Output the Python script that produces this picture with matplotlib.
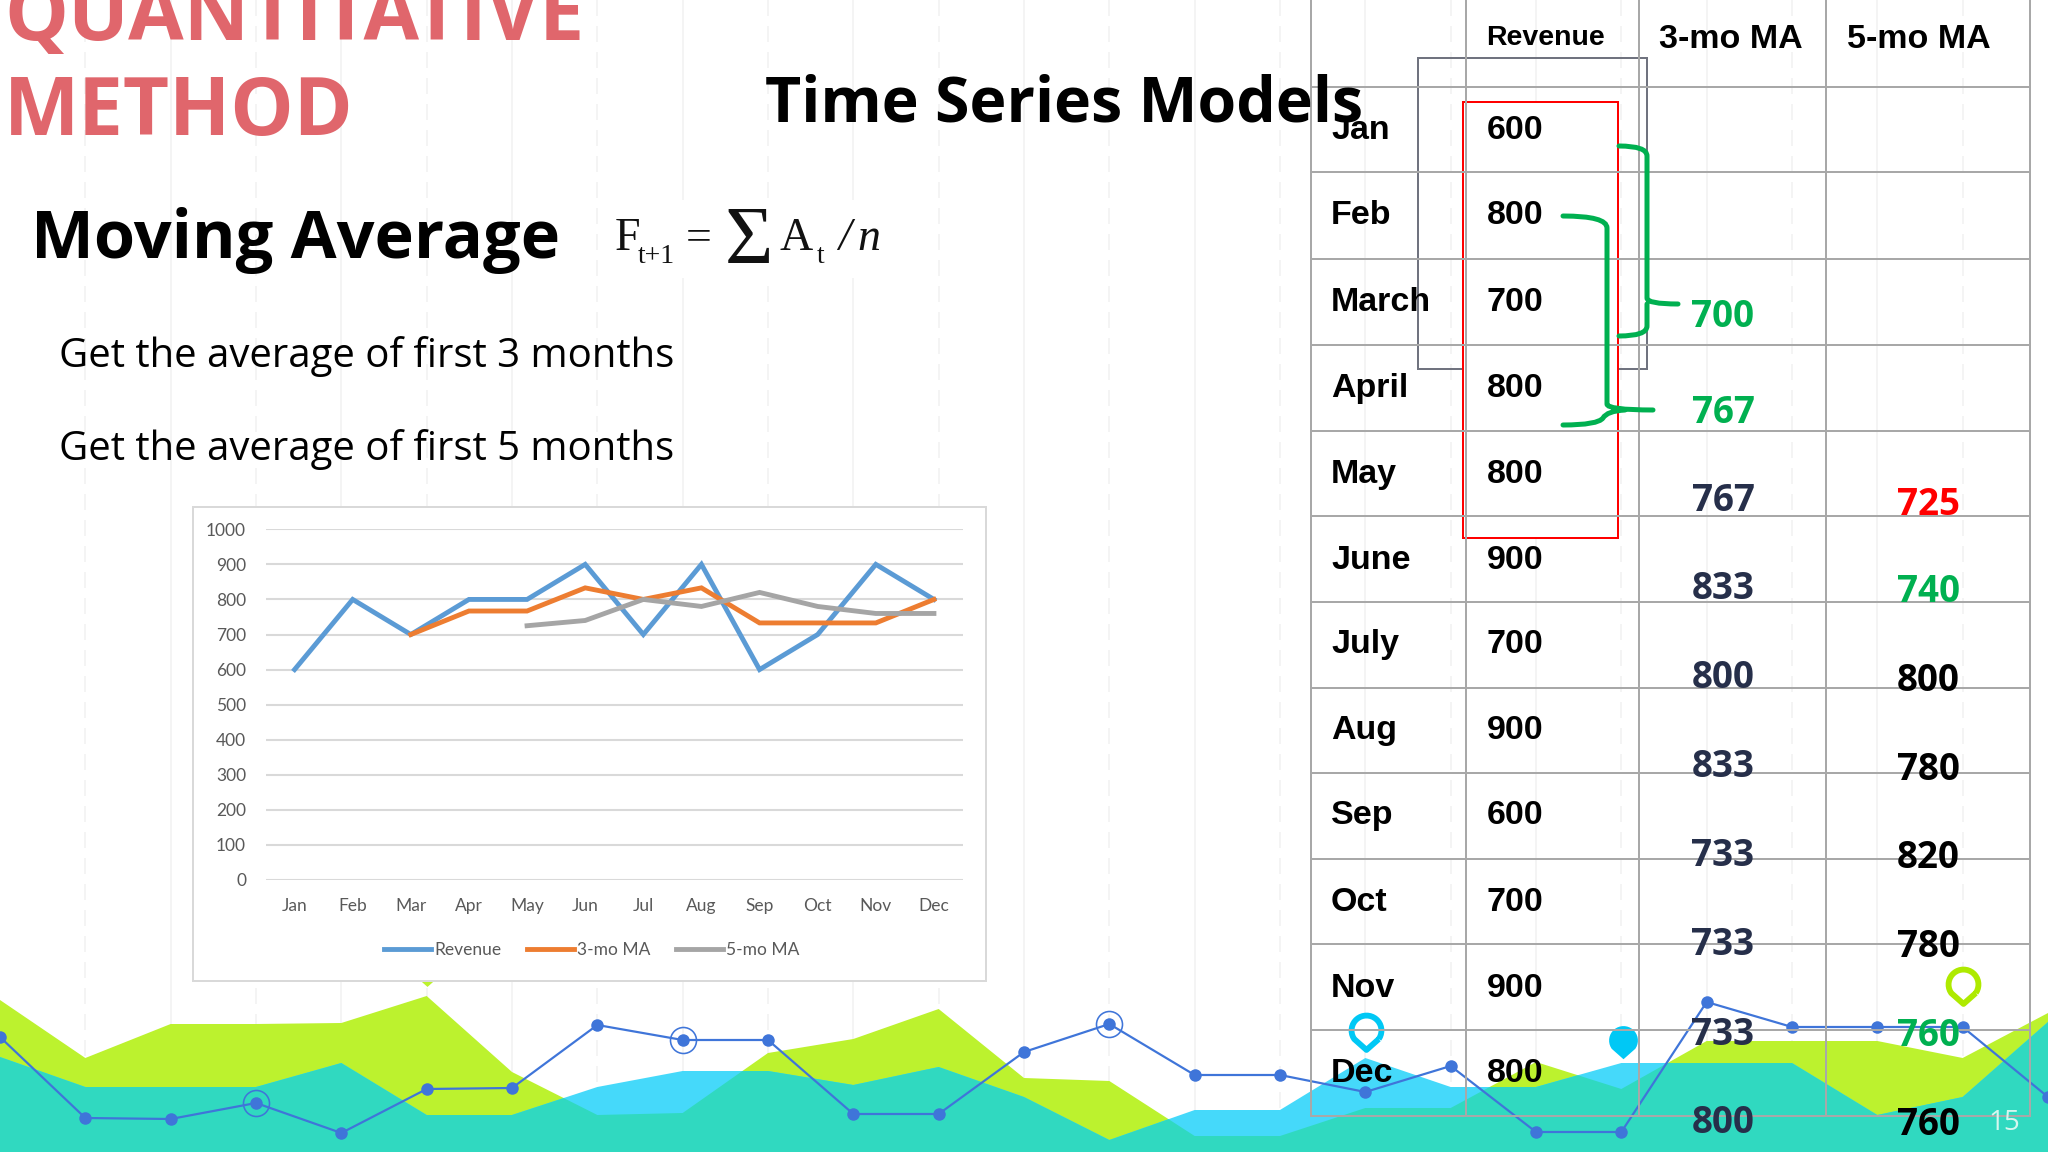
import numpy as np
import matplotlib
matplotlib.use('Agg')
import matplotlib.pyplot as plt
from matplotlib.path import Path
from matplotlib.patches import PathPatch, Rectangle, Polygon

months = ['Jan', 'Feb', 'Mar', 'Apr', 'May', 'Jun', 'Jul', 'Aug', 'Sep', 'Oct', 'Nov', 'Dec']
revenue = [600, 800, 700, 800, 800, 900, 700, 900, 600, 700, 900, 800]
ma3 = [np.nan, np.nan, 700, 767, 767, 833, 800, 833, 733, 733, 733, 800]
ma5 = [np.nan, np.nan, np.nan, np.nan, 725, 740, 800, 780, 820, 780, 760, 760]
y_ticks = [0, 100, 200, 300, 400, 500, 600, 700, 800, 900, 1000]

row_names = ['Jan', 'Feb', 'March', 'April', 'May', 'June', 'July', 'Aug', 'Sep', 'Oct', 'Nov', 'Dec']
row_y = [127, 212, 299, 385, 471, 557, 641, 727, 812, 899, 985, 1070]
ma3_y = [314, 410, 498, 586, 675, 764, 853, 942, 1032, 1120]
ma3_colors = ['#00b050', '#00b050', '#262f4a', '#262f4a', '#262f4a', '#262f4a', '#262f4a', '#262f4a', '#262f4a', '#262f4a']
ma5_y = [502, 589, 678, 767, 855, 944, 1033, 1122]
ma5_colors = ['#ff0000', '#00b050', 'black', 'black', 'black', 'black', '#00b050', 'black']

# decoration at the bottom of the slide, pixel heights every 1/24 of the width
wave_lime = [1000, 1058, 1024, 1024, 1023, 996, 1072, 1115, 1113, 1053, 1039, 1009, 1078,
             1081, 1136, 1136, 1108, 1108, 1062, 1089, 1041, 1041, 1041, 1058, 1013]
wave_cyan = [1057, 1087, 1087, 1087, 1063, 1115, 1115, 1087, 1071, 1071, 1085, 1067, 1097,
             1140, 1110, 1110, 1058, 1087, 1087, 1063, 1063, 1063, 1115, 1097, 1022]
wave_line = [1037, 1118, 1119, 1103, 1133, 1089, 1088, 1025, 1040, 1040, 1114, 1114, 1052,
             1024, 1075, 1075, 1092, 1066, 1132, 1132, 1002, 1027, 1027, 1027, 1097]
ring_idx = [3, 8, 13]

table_x = [1311, 1466, 1639, 1826, 2030]
table_y = [87, 172, 259, 345, 431, 516, 602, 688, 773, 859, 944, 1030, 1116]

GRAY = '#a8a8a8'
GREEN = '#00b050'
px = 0.72  # points per pixel at dpi 100

plt.rcParams['font.family'] = ['Open Sans', 'DejaVu Sans']

fig = plt.figure(figsize=(20.48, 11.52), dpi=100, facecolor='white')
ax = fig.add_axes([0, 0, 1, 1], zorder=1)
ax.set_xlim(0, 2048)
ax.set_ylim(1152, 0)
ax.axis('off')

step = 2048 / 24
wave_x = np.arange(25) * step

# pale vertical lines of the slide background
for i in range(1, 24):
    ax.plot([wave_x[i], wave_x[i]], [0, 1152], color='#f4f4f4', lw=2 * px,
            ls=(0, (8, 5)) if i % 2 else '-', zorder=1)
ax.add_patch(Rectangle((602, 200), 292, 78, fc='white', ec='none', zorder=1.5))

lime_poly = Polygon(np.r_[np.c_[wave_x, wave_lime], [[2048, 1152], [0, 1152]]], fc='#bcf22e', ec='none', zorder=2)
cyan_pts = np.r_[np.c_[wave_x, wave_cyan], [[2048, 1152], [0, 1152]]]
ax.add_patch(lime_poly)
ax.add_patch(Polygon(cyan_pts, fc='#45d9fa', ec='none', zorder=2.1))
overlap = Polygon(cyan_pts, fc='#30d9c0', ec='none', zorder=2.2)
ax.add_patch(overlap)
overlap.set_clip_path(lime_poly.get_path(), lime_poly.get_transform())

# map pins
ang = np.radians(np.arange(-35, 216, 10))
pin = Path(np.r_[np.c_[np.cos(ang), np.sin(ang)], [[0, -1.3]], [[np.cos(ang[0]), np.sin(ang[0])]]])
ax.plot([1366], [1030], marker=pin, ms=28, mfc='white', mec='#00c8f5', mew=4.2, ls='none', zorder=3)
ax.plot([1963], [984], marker=pin, ms=28, mfc='white', mec='#aeea00', mew=4.2, ls='none', zorder=3)
ax.plot([1623], [1040], marker=pin, ms=27, mfc='#00c8f5', mec='none', ls='none', zorder=3)
ax.plot([427], [967], marker=pin, ms=28, mfc='#bcf22e', mec='none', ls='none', zorder=3)

ax.plot(wave_x, wave_line, color='#3f75d9', lw=2.2 * px, marker='o', ms=9, mec='none', zorder=4)
ax.plot(wave_x[ring_idx], np.array(wave_line)[ring_idx], ls='none', marker='o', ms=26 * px,
        mfc='none', mec='#3f75d9', mew=1.6 * px, zorder=4)

# table
ax.add_patch(Rectangle((1418, 58), 229, 311, fc='none', ec='#70737f', lw=2 * px, zorder=5))
ax.add_patch(Rectangle((1463, 102), 155, 436, fc='white', ec='#ff0000', lw=2 * px, zorder=5.1))
for x in table_x:
    ax.plot([x, x], [0, 1116], color=GRAY, lw=2 * px, zorder=5.2)
for y in table_y:
    ax.plot([1311, 2030], [y, y], color=GRAY, lw=2 * px, zorder=5.2)

brace1 = Path([(1619, 146), (1647, 146), (1647, 156), (1647, 298), (1647, 304), (1678, 304),
               (1647, 304), (1647, 310), (1647, 326), (1647, 336), (1619, 336)],
              [Path.MOVETO, Path.CURVE3, Path.CURVE3, Path.LINETO, Path.CURVE3, Path.CURVE3,
               Path.MOVETO, Path.CURVE3, Path.CURVE3, Path.CURVE3, Path.CURVE3])
brace2 = Path([(1563, 216), (1607, 216), (1607, 228), (1607, 404), (1607, 410), (1653, 410),
               (1625, 410), (1607, 411), (1603, 418), (1598, 425), (1563, 425)],
              [Path.MOVETO, Path.CURVE3, Path.CURVE3, Path.LINETO, Path.CURVE3, Path.CURVE3,
               Path.MOVETO, Path.CURVE3, Path.CURVE3, Path.CURVE3, Path.CURVE3])
for b in (brace1, brace2):
    ax.add_patch(PathPatch(b, fc='none', ec=GREEN, lw=5 * px, zorder=5.3, capstyle='round'))

cell = dict(family=['Liberation Sans', 'DejaVu Sans'], weight='bold', color='black', zorder=6, va='baseline')
ax.text(1486, 45, 'Revenue', fontsize=20.5, **cell)
ax.text(1659, 48, '3-mo MA', fontsize=24.5, **cell)
ax.text(1847, 48, '5-mo MA', fontsize=24.5, **cell)
for name, value, y in zip(row_names, revenue, row_y):
    ax.text(1331, y + 12, name, fontsize=24.5, **cell)
    ax.text(1487, y + 12, str(value), fontsize=24.5, **cell)

num = dict(family=['Open Sans', 'DejaVu Sans'], weight='bold', fontsize=26.5, ha='center', va='baseline', zorder=6)
ma3_col = [v for v in ma3 if not np.isnan(v)]
ma5_col = [v for v in ma5 if not np.isnan(v)]
for value, y, c in zip(ma3_col, ma3_y, ma3_colors):
    ax.text(1723, y + 13, str(value), color=c, **num)
for value, y, c in zip(ma5_col, ma5_y, ma5_colors):
    ax.text(1928, y + 13, str(value), color=c, **num)
ax.text(2004, 1130, '15', color='#d5f7ef', fontsize=20, ha='center', va='baseline', zorder=6)

# headings
RED = '#e0666c'
ax.text(4, 40, 'QUANTITATIVE', color=RED, fontsize=58, weight='bold', va='baseline', zorder=6)
ax.text(4, 135, 'METHOD', color=RED, fontsize=57.5, weight='bold', va='baseline', zorder=6)
ax.text(765, 121, 'Time Series Models', color='black', fontsize=45.1, weight='bold', va='baseline', zorder=5.5)
ax.text(31, 258, 'Moving Average', color='black', fontsize=48, weight='bold', va='baseline', zorder=6)
ax.text(59, 367, 'Get the average of first 3 months', color='black', fontsize=28.9, va='baseline', zorder=6)
ax.text(59, 460, 'Get the average of first 5 months', color='black', fontsize=28.9, va='baseline', zorder=6)

# formula
serif = dict(family=['Liberation Serif', 'DejaVu Serif'], color='#111111', va='baseline', zorder=6)
ax.text(615, 250, 'F', fontsize=33, **serif)
ax.text(638, 263, 't+1', fontsize=20, **serif)
ax.text(686, 250, '=', fontsize=33, **serif)
ax.text(725, 263, 'Σ', fontsize=60, **serif)
ax.text(779, 250, 'A', fontsize=33, **serif)
ax.text(817, 263, 't', fontsize=20, **serif)
ax.text(838, 250, '/', fontsize=33, style='italic', **serif)
ax.text(857, 250, 'n', fontsize=33, style='italic', **serif)

# excel chart pasted on the slide
ax.add_patch(Rectangle((193, 507), 793, 474, fc='white', ec='#d9d9d9', lw=2 * px, zorder=4.5))
l, r, t, b = 265.5, 963, 529.3, 880
ax2 = fig.add_axes([l / 2048, 1 - b / 1152, (r - l) / 2048, (b - t) / 1152], zorder=2)
ax2.patch.set_alpha(0)
ax2.plot(months, revenue, color='#5b9bd5', lw=3.5, label='Revenue', solid_joinstyle='miter', zorder=3)
ax2.plot(months, ma3, color='#ed7d31', lw=3.5, label='3-mo MA', solid_joinstyle='miter', zorder=4)
ax2.plot(months, ma5, color='#a5a5a5', lw=3.5, label='5-mo MA', solid_joinstyle='miter', zorder=5)
ax2.set_xlim(-0.5, 11.5)
ax2.set_ylim(0, 1000)
ax2.set_yticks(y_ticks)
ax2.grid(axis='y', color='#d9d9d9', lw=1.5)
ax2.grid(axis='x', visible=False)
ax2.set_axisbelow(True)
for s in ax2.spines.values():
    s.set_visible(False)
tick_font = ['Lato', 'DejaVu Sans']
ax2.tick_params(axis='both', length=0, labelsize=12.5, labelcolor='#595959')
ax2.tick_params(axis='x', pad=13)
ax2.tick_params(axis='y', pad=14)
for lab in ax2.get_xticklabels() + ax2.get_yticklabels():
    lab.set_family(tick_font)
leg = ax2.legend(loc='center', bbox_to_anchor=(592 / 2048, 1 - 950 / 1152), bbox_transform=fig.transFigure,
                 ncol=3, frameon=False, handlelength=2.7, handletextpad=0.2, columnspacing=1.45,
                 prop={'family': tick_font, 'size': 12.5}, labelcolor='#595959', borderpad=0, borderaxespad=0)

fig.savefig('out.png', dpi=100)
